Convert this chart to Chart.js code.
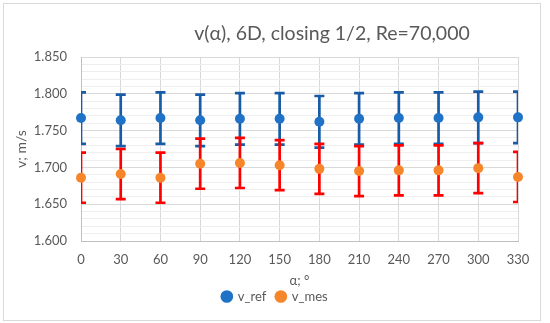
<!DOCTYPE html>
<html>
<head>
<meta charset="utf-8">
<script src="https://cdn.jsdelivr.net/npm/chart.js@4/dist/chart.umd.min.js"></script>
<style>
html,body{margin:0;padding:0;background:#fff;}
#wrap{width:550px;height:323px;position:relative;}
</style>
</head>
<body>
<div id="wrap"><canvas id="c" width="550" height="323"></canvas></div>
<script>
// ---- data ----
const chartTitle = 'v(α), 6D, closing 1/2, Re=70,000';
const xTitle = 'α; °';
const yTitle = 'v; m/s';
const angles = [0, 30, 60, 90, 120, 150, 180, 210, 240, 270, 300, 330];
const vRef    = [1.767, 1.764, 1.767, 1.764, 1.766, 1.766, 1.762, 1.766, 1.767, 1.767, 1.768, 1.768];
const vRefErr = [0.035, 0.035, 0.035, 0.035, 0.035, 0.035, 0.035, 0.035, 0.035, 0.035, 0.035, 0.035];
const vMes    = [1.686, 1.691, 1.686, 1.705, 1.706, 1.703, 1.698, 1.695, 1.696, 1.696, 1.699, 1.687];
const vMesErr = [0.034, 0.034, 0.034, 0.034, 0.034, 0.034, 0.034, 0.034, 0.034, 0.034, 0.034, 0.034];
const xMin = 0, xMax = 330, xStep = 30;
const yMin = 1.6, yMax = 1.85, yMajorStep = 0.05, yMinorStep = 0.01;

const FONT = 'Lato';
const GRAY = '#595959';

const toPoints = (vals) => angles.map((a, i) => ({x: a, y: vals[i]}));

const errorBars = {
  id: 'errorBars',
  beforeDatasetsDraw(chart) {
    const {ctx, chartArea: a, scales: {x, y}} = chart;
    ctx.save();
    ctx.beginPath();
    ctx.rect(a.left, a.top, a.right - a.left, a.bottom - a.top);
    ctx.clip();
    chart.data.datasets.forEach(ds => {
      if (!ds.errors) return;
      ctx.strokeStyle = ds.errorColor;
      ctx.lineWidth = 2.7;
      ds.data.forEach((p, i) => {
        const px = x.getPixelForValue(p.x);
        const yt = y.getPixelForValue(p.y + ds.errors[i]);
        const yb = y.getPixelForValue(p.y - ds.errors[i]);
        ctx.beginPath();
        ctx.moveTo(px, yt); ctx.lineTo(px, yb);
        ctx.moveTo(px - 5, yt); ctx.lineTo(px + 5, yt);
        ctx.moveTo(px - 5, yb); ctx.lineTo(px + 5, yb);
        ctx.stroke();
      });
    });
    ctx.restore();
  }
};

const frameAndTitle = {
  id: 'frameAndTitle',
  afterLayout(chart) {
    // centre the legend on the canvas instead of on the padded box
    const lg = chart.legend;
    if (lg) { lg.left += 16; lg.right += 16; }
  },
  beforeDraw(chart) {
    const ctx = chart.ctx;
    ctx.save();
    ctx.fillStyle = '#fff';
    ctx.fillRect(0, 0, chart.width, chart.height);
    ctx.strokeStyle = '#d9d9d9';
    ctx.lineWidth = 1;
    ctx.strokeRect(3.5, 3.5, 537, 317);
    ctx.restore();
  },
  afterDraw(chart) {
    const ctx = chart.ctx;
    ctx.save();
    ctx.fillStyle = GRAY;
    ctx.font = '19.5px ' + FONT;
    ctx.textAlign = 'center';
    ctx.textBaseline = 'middle';
    ctx.fillText(chartTitle, 332, 34);
    ctx.restore();
  }
};

const isMajor = (v) => Math.abs(Math.round(v / yMajorStep) * yMajorStep - v) < 1e-6;

new Chart(document.getElementById('c'), {
  type: 'scatter',
  data: {
    datasets: [
      {
        label: 'v_ref',
        data: toPoints(vRef),
        errors: vRefErr,
        errorColor: '#1A5BA6',
        backgroundColor: '#1F72C6',
        borderColor: '#1F72C6',
        borderWidth: 0,
        pointRadius: 5,
        clip: false
      },
      {
        label: 'v_mes',
        data: toPoints(vMes),
        errors: vMesErr,
        errorColor: '#FF0000',
        backgroundColor: '#F7862B',
        borderColor: '#F7862B',
        borderWidth: 0,
        pointRadius: 5,
        clip: false
      }
    ]
  },
  options: {
    responsive: false,
    animation: false,
    layout: {padding: {top: 57, right: 32, left: 0, bottom: 10}},
    scales: {
      x: {
        type: 'linear',
        min: xMin, max: xMax,
        ticks: {stepSize: xStep, color: GRAY, font: {family: FONT, size: 13}, padding: 11, maxRotation: 0, autoSkip: false},
        grid: {color: '#d9d9d9', drawTicks: false},
        border: {color: '#bfbfbf'},
        title: {display: true, text: xTitle, color: GRAY, font: {family: FONT, size: 13}, padding: {top: 0, bottom: -9}},
        afterFit: (s) => { s.height = 39; }
      },
      y: {
        min: yMin, max: yMax,
        ticks: {
          stepSize: yMinorStep, autoSkip: false, color: GRAY, font: {family: FONT, size: 13}, padding: 14,
          callback: (v) => isMajor(v) ? Number(v).toFixed(3) : ''
        },
        grid: {
          drawTicks: false,
          color: (c) => (c.tick && isMajor(c.tick.value)) ? '#d9d9d9' : '#eeeeee'
        },
        border: {color: '#bfbfbf'},
        title: {display: true, text: yTitle, color: GRAY, font: {family: FONT, size: 14}, padding: {top: 13, bottom: 0}},
        afterFit: (s) => { s.width = 81; }
      }
    },
    plugins: {
      legend: {
        position: 'bottom',
        labels: {usePointStyle: true, pointStyle: 'circle', boxWidth: 9, boxHeight: 9, padding: 10,
                 color: GRAY, font: {family: FONT, size: 13}}
      },
      tooltip: {enabled: false}
    }
  },
  plugins: [frameAndTitle, errorBars]
});
</script>
</body>
</html>
